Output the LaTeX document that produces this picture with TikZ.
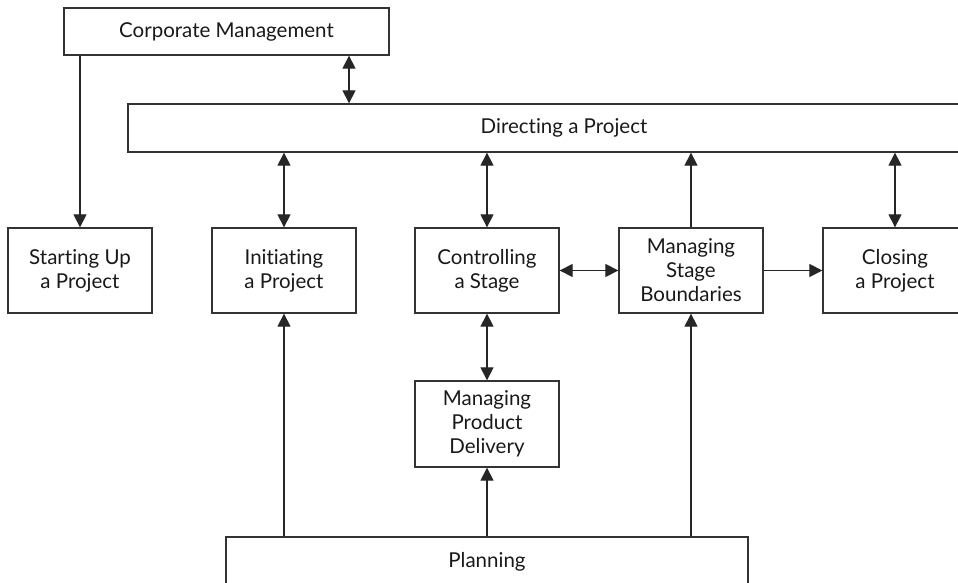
\documentclass[tikz,border=0pt]{standalone}
\usepackage{fontspec}
\setmainfont{Lato}[Ligatures=NoCommon]
\usetikzlibrary{arrows.meta}

\begin{document}
\begin{tikzpicture}[x=1pt, y=-1pt,
        box/.style={draw=black!80, line width=1.3pt, text=black!90, align=center,
            inner sep=0pt, font=\fontsize{20.5}{24}\selectfont},
        proc/.style={box, minimum width=144pt, minimum height=85pt},
        link/.style={line width=1.2pt, draw=black!85, -{Triangle[length=13pt, width=13pt]}},
        both/.style={link, {Triangle[length=13pt, width=13pt]}-{Triangle[length=13pt, width=13pt]}}]
        % Page frame
        \useasboundingbox (0,0) rectangle (958,583);
        \clip (0,0) rectangle (958,583);

        % Management boxes
        \node[box, minimum width=325pt, minimum height=47pt] (corp) at (226.5,31.5) {Corporate Management};
        \node[box, minimum width=872pt, minimum height=48pt] (dir) at (564,128) {Directing a Project};

        % Processes
        \node[proc] (start) at (80,270.5) {Starting Up\\a Project};
        \node[proc] (init) at (284,270.5) {Initiating\\a Project};
        \node[proc] (ctrl) at (487,270.5) {Controlling\\a Stage};
        \node[proc] (msb) at (691,270.5) {Managing\\Stage\\Boundaries};
        \node[proc] (close) at (895,270.5) {Closing\\a Project};
        \node[proc, minimum height=86pt] (mpd) at (487,424) {Managing\\Product\\Delivery};
        \node[box, minimum width=522pt, minimum height=50pt] (plan) at (487,562) {Planning};

        % Corporate Management links
        \coordinate (cm) at (349,55);
        \draw[both] (corp.south -| cm) -- (dir.north -| cm);
        \draw[link] (corp.south -| start.north) -- (start.north);

        % Directing links
        \foreach \n in {init, ctrl, close} {
            \draw[both] (dir.south -| \n.north) -- (\n.north);
        }
        \draw[link] (msb.north) -- (dir.south -| msb.north);

        % Stage links
        \draw[both] (ctrl.east) -- (msb.west);
        \draw[link] (msb.east) -- (close.west);
        \draw[both] (ctrl.south) -- (mpd.north);

        % Planning links
        \foreach \n in {init, mpd, msb} {
            \draw[link] (plan.north -| \n.south) -- (\n.south);
        }
    \end{tikzpicture}
\end{document}
